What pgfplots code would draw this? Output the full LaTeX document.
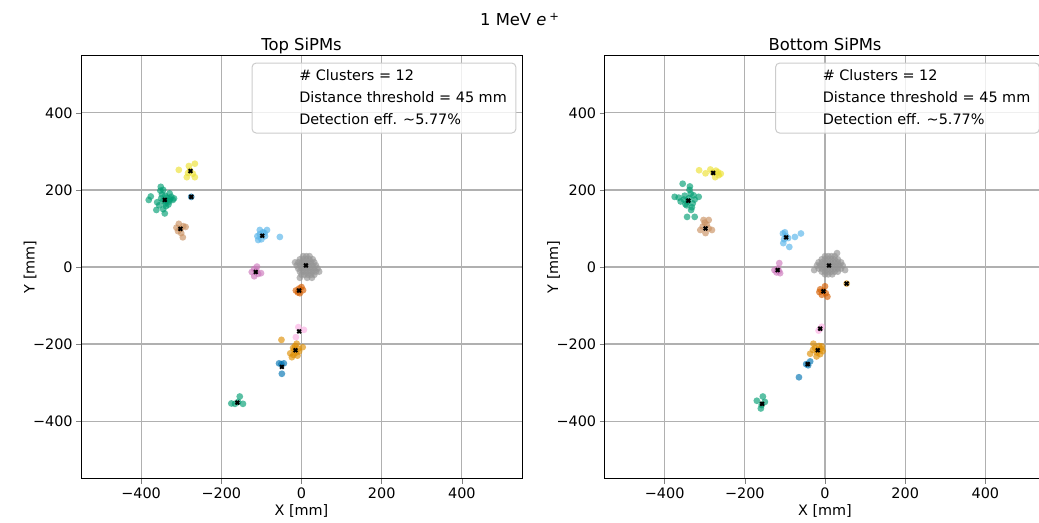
\documentclass[border=0pt]{standalone}
\usepackage{pgfplots}
\pgfplotsset{compat=1.18}
\usepackage{fontspec}
\setmainfont{DejaVu Sans}

\definecolor{cbBlue}{HTML}{0173B2}
\definecolor{cbOrange}{HTML}{DE8F05}
\definecolor{cbGreen}{HTML}{029E73}
\definecolor{cbRed}{HTML}{D55E00}
\definecolor{cbPink}{HTML}{CC78BC}
\definecolor{cbBrown}{HTML}{CA9161}
\definecolor{cbLPink}{HTML}{FBAFE4}
\definecolor{cbGray}{HTML}{949494}
\definecolor{cbYellow}{HTML}{ECE133}
\definecolor{cbLBlue}{HTML}{56B4E9}
\definecolor{gridgray}{HTML}{B0B0B0}

\pgfplotsset{
  hit/.style={only marks, color=#1, mark=*, mark size=1.7pt,
    mark options={solid, draw=#1, fill=#1, draw opacity=0, fill opacity=0.65}},
  centre/.style={only marks, color=black, mark=x, mark size=1.3pt,
    mark options={solid, draw=black, line width=1pt}},
  panel/.style={
    width=220.5pt, height=212pt, scale only axis,
    xmin=-550, xmax=550, ymin=-550, ymax=550,
    xtick={-400,-200,0,200,400}, ytick={-400,-200,0,200,400},
    xticklabels={−400,−200,0,200,400},
    yticklabels={−400,−200,0,200,400},
    tick label style={font=\fontsize{7.2}{8}\selectfont},
    tick align=outside, tick pos=left, major tick length=2.5pt,
    grid=major, major grid style={draw=gridgray, line width=0.6pt},
    axis line style={line width=0.5pt},
    xticklabel style={anchor=north, inner sep=0pt, yshift=-1.5pt},
    yticklabel style={anchor=east, inner sep=0pt, xshift=-1.5pt},
    every axis x label/.style={at={(axis description cs:0.5,0)}, yshift=-16pt,
      anchor=center, font=\fontsize{7.2}{8}\selectfont},
    every axis y label/.style={at={(axis description cs:0,0.5)}, xshift=-25.5pt,
      rotate=90, anchor=center, font=\fontsize{7.2}{8}\selectfont},
    every axis title/.style={at={(axis description cs:0.5,1)}, anchor=base,
      yshift=2.5pt, font=\fontsize{8.2}{9}\selectfont},
    xlabel={X [mm]}, ylabel={Y [mm]},
  },
}

% cluster-summary box drawn in the upper right of each panel
\newcommand{\summarybox}{%
  \draw[draw=black!20, line width=0.5pt, rounded corners=2pt, fill=white, fill opacity=0.8]
    (rel axis cs:0.388,0.816) rectangle (rel axis cs:0.986,0.981);
  \node[anchor=base west, inner sep=0pt, font=\fontsize{7.2}{8}\selectfont]
    at (rel axis cs:0.494,0.941) {\# Clusters = 12};
  \node[anchor=base west, inner sep=0pt, font=\fontsize{7.2}{8}\selectfont]
    at (rel axis cs:0.494,0.889) {Distance threshold = 45 mm};
  \node[anchor=base west, inner sep=0pt, font=\fontsize{7.2}{8}\selectfont]
    at (rel axis cs:0.494,0.837) {Detection eff. \textasciitilde5.77\%};
}

\begin{document}
\begin{tikzpicture}
\useasboundingbox (0,0) rectangle (519.5pt,261.5pt);

\node[anchor=base, font=\fontsize{8.2}{9}\selectfont] at (260pt,248.5pt)
  {1 MeV \textit{e}\,\textsuperscript{+}};

%% ---------------- Top SiPMs ----------------
\begin{axis}[panel, at={(40.5pt,22pt)}, anchor=south west, title={Top SiPMs}]
\addplot[hit=cbYellow] coordinates {(-306,252) (-281,262) (-266,268) (-286,233) (-266,233) (-271,242) (-278,250) (-283,244)};
\addplot[hit=cbBlue] coordinates {(-275,182)};
\addplot[hit=cbGreen] coordinates {(-351,208) (-352,198) (-345,200) (-381,174) (-376,183) (-341,139) (-321,174) (-329,191) (-362,148) (-335,180) (-330,170) (-340,165) (-345,172) (-338,158) (-355,160) (-325,182) (-332,162) (-350,178) (-318,178) (-340,185) (-360,168) (-345,150) (-328,176) (-336,172) (-348,188)};
\addplot[hit=cbBrown] coordinates {(-306,112) (-296,77) (-289,104) (-312,102) (-300,88) (-302,99) (-295,106) (-308,93)};
\addplot[hit=cbLBlue] coordinates {(-54,78) (-104,96) (-86,96) (-108,70) (-91,80) (-96,90) (-110,80) (-100,72) (-92,88) (-104,85)};
\addplot[hit=cbPink] coordinates {(-111,1) (-101,-16) (-118,-24) (-124,-13) (-112,-10) (-118,-5) (-108,-18)};
\addplot[hit=cbGray] coordinates {
  (4,28) (12,28) (20,28)
  (-4,20) (4,20) (12,20) (20,20) (28,20)
  (-16,12) (-8,12) (0,12) (8,12) (16,12) (24,12) (32,12)
  (-12,4) (-4,4) (4,4) (12,4) (20,4) (28,4) (36,4)
  (-8,-4) (0,-4) (8,-4) (16,-4) (24,-4) (32,-4) (40,-4)
  (-4,-12) (4,-12) (12,-12) (20,-12) (28,-12) (36,-12) (44,-12)
  (0,-20) (8,-20) (16,-20) (24,-20) (32,-20)
  (-4,-28) (14,-28) (26,-28)};
\addplot[hit=cbRed] coordinates {(0,-52) (-14,-61) (-9,-66) (4,-60) (-6,-56) (-4,-68)};
\addplot[hit=cbLPink] coordinates {(6,-163) (-8,-156) (-14,-182)};
\addplot[hit=cbOrange] coordinates {(-50,-189) (-28,-224) (-21,-210) (-6,-219) (3,-208) (-12,-199) (-24,-234) (-14,-222) (-18,-214) (-8,-212) (-20,-228) (-10,-230) (-16,-205)};
\addplot[hit=cbBlue] coordinates {(-56,-250) (-44,-250) (-49,-277) (-50,-252)};
\addplot[hit=cbGreen] coordinates {(-154,-336) (-175,-354) (-146,-355) (-166,-355) (-158,-350)};
% cluster centroids
\addplot[centre] coordinates {(-277,249) (-275,182) (-341,174) (-302,99) (-98,81) (-114,-13) (11,4) (-6,-61) (-6,-167) (-15,-216) (-49,-259) (-160,-352)};
\summarybox
\end{axis}

%% ---------------- Bottom SiPMs ----------------
\begin{axis}[panel, at={(302.25pt,22pt)}, anchor=south west, title={Bottom SiPMs}]
\addplot[hit=cbYellow] coordinates {(-314,251) (-298,243) (-286,253) (-260,242) (-274,233) (-267,246) (-280,245) (-272,250) (-265,238)};
\addplot[hit=cbGreen] coordinates {(-355,216) (-337,209) (-375,182) (-315,182) (-344,130) (-325,130) (-334,148) (-348,163) (-352,175) (-330,165) (-340,178) (-335,190) (-345,160) (-325,175) (-360,170) (-338,200) (-365,180) (-342,170) (-332,155) (-350,185) (-328,186)};
\addplot[hit=cbBrown] coordinates {(-303,122) (-290,122) (-282,96) (-311,96) (-298,88) (-295,110) (-305,105) (-290,100) (-300,115)};
\addplot[hit=cbLBlue] coordinates {(-60,87) (-75,78) (-89,52) (-104,62) (-105,87) (-97,80) (-102,72) (-92,75) (-100,90)};
\addplot[hit=cbPink] coordinates {(-114,10) (-126,-8) (-112,-16) (-121,-14) (-118,-4) (-115,-10)};
\addplot[hit=cbGray] coordinates {
  (30,36)
  (0,28) (8,28) (16,28) (24,28)
  (-8,20) (0,20) (8,20) (16,20) (24,20) (32,20)
  (-16,12) (-8,12) (0,12) (8,12) (16,12) (24,12) (32,12) (40,12)
  (-20,4) (-12,4) (-4,4) (4,4) (12,4) (20,4) (28,4) (36,4) (44,4)
  (-16,-4) (-8,-4) (0,-4) (8,-4) (16,-4) (24,-4) (32,-4) (40,-4)
  (-27,-8) (50,-8)
  (-8,-12) (0,-12) (8,-12) (16,-12) (24,-12) (32,-12)
  (0,-19) (8,-19) (18,-19)};
\addplot[hit=cbRed] coordinates {(0,-50) (-12,-58) (6,-77) (-14,-65) (-4,-62) (2,-68) (-8,-72)};
\addplot[hit=cbOrange] coordinates {(54,-43)};
\addplot[hit=cbLPink] coordinates {(-8,-155) (-16,-165) (-12,-160)};
\addplot[hit=cbOrange] coordinates {(-29,-199) (-8,-206) (-37,-225) (-21,-232) (-6,-218) (-18,-216) (-25,-210) (-12,-226) (-30,-215) (-15,-205) (-20,-222) (-10,-212)};
\addplot[hit=cbBlue] coordinates {(-37,-245) (-47,-252) (-65,-286) (-42,-255)};
\addplot[hit=cbGreen] coordinates {(-155,-336) (-170,-347) (-160,-367) (-150,-350) (-158,-358)};
% cluster centroids
\addplot[centre] coordinates {(-279,244) (-341,172) (-298,100) (-97,77) (-118,-8) (10,4) (-4,-63) (54,-43) (-12,-160) (-18,-216) (-43,-252) (-157,-355)};
\summarybox
\end{axis}
\end{tikzpicture}
\end{document}
